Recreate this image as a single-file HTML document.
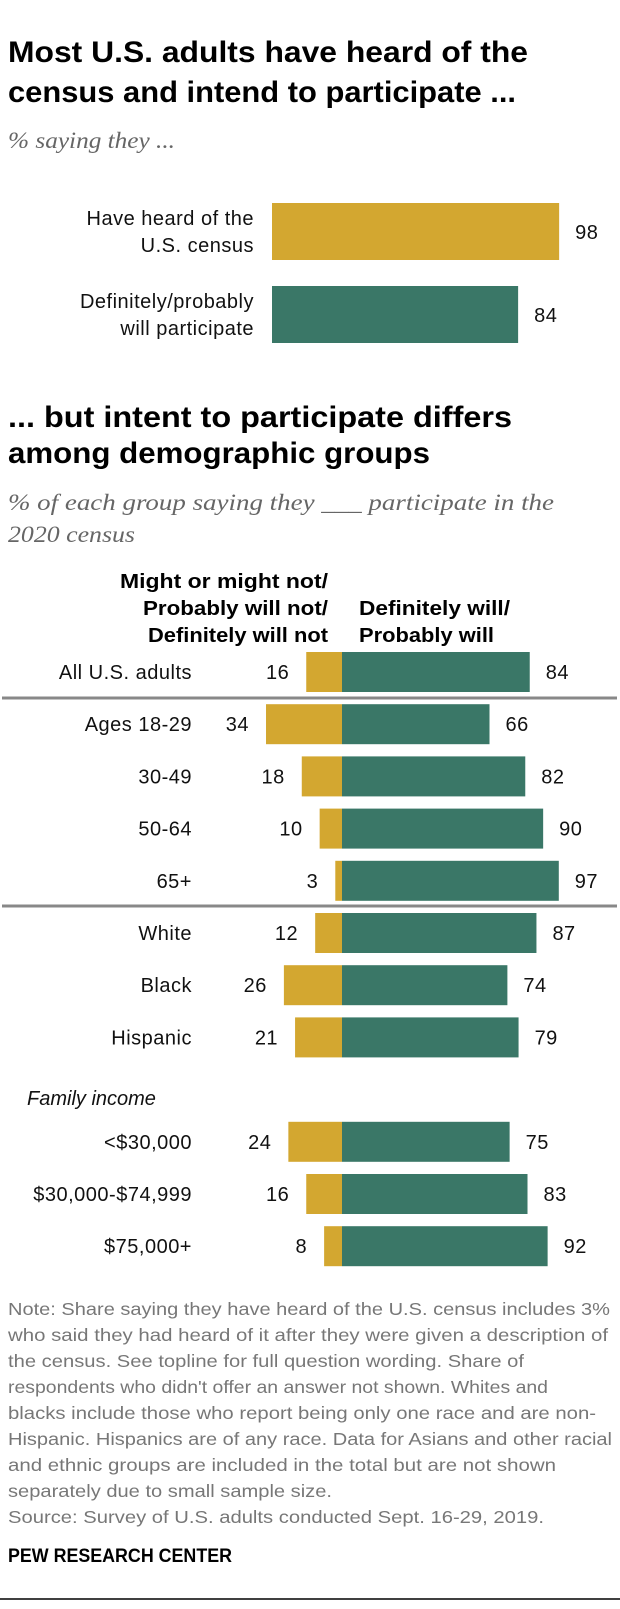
<!DOCTYPE html>
<html><head><meta charset="utf-8"><style>
html,body{margin:0;padding:0;background:#fff;}
svg{display:block;font-family:"Liberation Sans",sans-serif;}
.t{font-weight:bold;font-size:30px;fill:#000;}
.sub{font-family:"Liberation Serif",serif;font-style:italic;font-size:23px;fill:#666;}
.lab{font-size:20px;fill:#111;letter-spacing:0.5px;}
.hd{font-weight:bold;font-size:20px;fill:#000;}
.note{font-size:17.5px;fill:#777;}
</style></head><body>
<svg id="chart" width="620" height="1609" viewBox="0 0 620 1609" xmlns="http://www.w3.org/2000/svg">
<text class="t" x="8" y="62" textLength="520" lengthAdjust="spacingAndGlyphs">Most U.S. adults have heard of the</text>
<text class="t" x="8" y="102" textLength="508" lengthAdjust="spacingAndGlyphs">census and intend to participate ...</text>
<text class="sub" x="8" y="148" textLength="167" lengthAdjust="spacingAndGlyphs">% saying they ...</text>
<g id="top"></g>
<text class="t" x="8" y="427" textLength="504" lengthAdjust="spacingAndGlyphs">... but intent to participate differs</text>
<text class="t" x="8" y="463" textLength="422" lengthAdjust="spacingAndGlyphs">among demographic groups</text>
<text class="sub" x="8" y="510" textLength="546" lengthAdjust="spacingAndGlyphs">% of each group saying they ___ participate in the</text>
<text class="sub" x="8" y="542" textLength="127" lengthAdjust="spacingAndGlyphs">2020 census</text>
<g class="hd" text-anchor="end">
<text x="328" y="588" textLength="208" lengthAdjust="spacingAndGlyphs">Might or might not/</text>
<text x="328" y="615" textLength="185" lengthAdjust="spacingAndGlyphs">Probably will not/</text>
<text x="328" y="642" textLength="180" lengthAdjust="spacingAndGlyphs">Definitely will not</text>
</g>
<g class="hd">
<text x="359" y="615" textLength="151" lengthAdjust="spacingAndGlyphs">Definitely will/</text>
<text x="359" y="642" textLength="135" lengthAdjust="spacingAndGlyphs">Probably will</text>
</g>
<line x1="2" x2="617" y1="698" y2="698" stroke="#888" stroke-width="3"/>
<line x1="2" x2="617" y1="906" y2="906" stroke="#888" stroke-width="3"/>
<text x="27" y="1105" font-style="italic" font-size="20" fill="#111">Family income</text>
<g id="div"></g>
<g class="note">
<text x="8" y="1315" textLength="602" lengthAdjust="spacingAndGlyphs">Note: Share saying they have heard of the U.S. census includes 3%</text>
<text x="8" y="1341" textLength="600" lengthAdjust="spacingAndGlyphs">who said they had heard of it after they were given a description of</text>
<text x="8" y="1367" textLength="516" lengthAdjust="spacingAndGlyphs">the census. See topline for full question wording. Share of</text>
<text x="8" y="1393" textLength="540" lengthAdjust="spacingAndGlyphs">respondents who didn't offer an answer not shown. Whites and</text>
<text x="8" y="1419" textLength="588" lengthAdjust="spacingAndGlyphs">blacks include those who report being only one race and are non-</text>
<text x="8" y="1445" textLength="604" lengthAdjust="spacingAndGlyphs">Hispanic. Hispanics are of any race. Data for Asians and other racial</text>
<text x="8" y="1471" textLength="548" lengthAdjust="spacingAndGlyphs">and ethnic groups are included in the total but are not shown</text>
<text x="8" y="1497" textLength="324" lengthAdjust="spacingAndGlyphs">separately due to small sample size.</text>
<text x="8" y="1523" textLength="536" lengthAdjust="spacingAndGlyphs">Source: Survey of U.S. adults conducted Sept. 16-29, 2019.</text>
</g>
<text x="8" y="1562" font-weight="bold" font-size="19" fill="#000" textLength="224" lengthAdjust="spacingAndGlyphs">PEW RESEARCH CENTER</text>
<line x1="0" x2="620" y1="1599" y2="1599" stroke="#000" stroke-width="1.5"/>
</svg>
<script>
const topCategories = [["Have heard of the","U.S. census"],["Definitely/probably","will participate"]];
const topValues = [98, 84];
const groupCategories = ["All U.S. adults","Ages 18-29","30-49","50-64","65+","White","Black","Hispanic","<$30,000","$30,000-$74,999","$75,000+"];
const noValues = [16,34,18,10,3,12,26,21,24,16,8];
const yesValues = [84,66,82,90,97,87,74,79,75,83,92];
const rowSlots = [0,1,2,3,4,5,6,7,9,10,11];

const NS="http://www.w3.org/2000/svg";
const YEL="#D3A730", GRN="#3A7767";
function mk(tag, attrs, parent){const e=document.createElementNS(NS,tag);for(const k in attrs)e.setAttribute(k,attrs[k]);parent.appendChild(e);return e;}
const topX = v => 272 + v*2.93;
const topG = document.getElementById('top');
topValues.forEach((v,i)=>{
  const y = 203 + i*83;
  const r = mk('rect',{x:272,y:y,width:topX(v)-272,height:57,fill:i===0?YEL:GRN},topG);
  
  
  topCategories[i].forEach((ln,j)=>{
    const t = mk('text',{x:254,y:y+22+j*27,'text-anchor':'end',class:'lab'},topG);
    t.textContent=ln;
    
    
  });
  const vt = mk('text',{x:topX(v)+16,y:y+36,class:'lab'},topG);
  vt.textContent=v;
  
  
});
const C=342, S=2.235;
const xs = v => v*S;
const rowY = s => 652 + s*52.2;
const dG = document.getElementById('div');
groupCategories.forEach((c,i)=>{
  const y = rowY(rowSlots[i]);
  const n=noValues[i], yv=yesValues[i];
  const rn = mk('rect',{x:C-xs(n),y:y,width:xs(n),height:40,fill:YEL},dG);
  
  
  const ry = mk('rect',{x:C,y:y,width:xs(yv),height:40,fill:GRN},dG);
  
  
  const lt = mk('text',{x:192,y:y+27,'text-anchor':'end',class:'lab'},dG);
  lt.textContent=c;
  
  
  const nt = mk('text',{x:C-xs(n)-17,y:y+27,'text-anchor':'end',class:'lab'},dG);
  nt.textContent=n;
  
  
  const yt = mk('text',{x:C+xs(yv)+16,y:y+27,class:'lab'},dG);
  yt.textContent=yv;
  
  
});
</script>
</body></html>
